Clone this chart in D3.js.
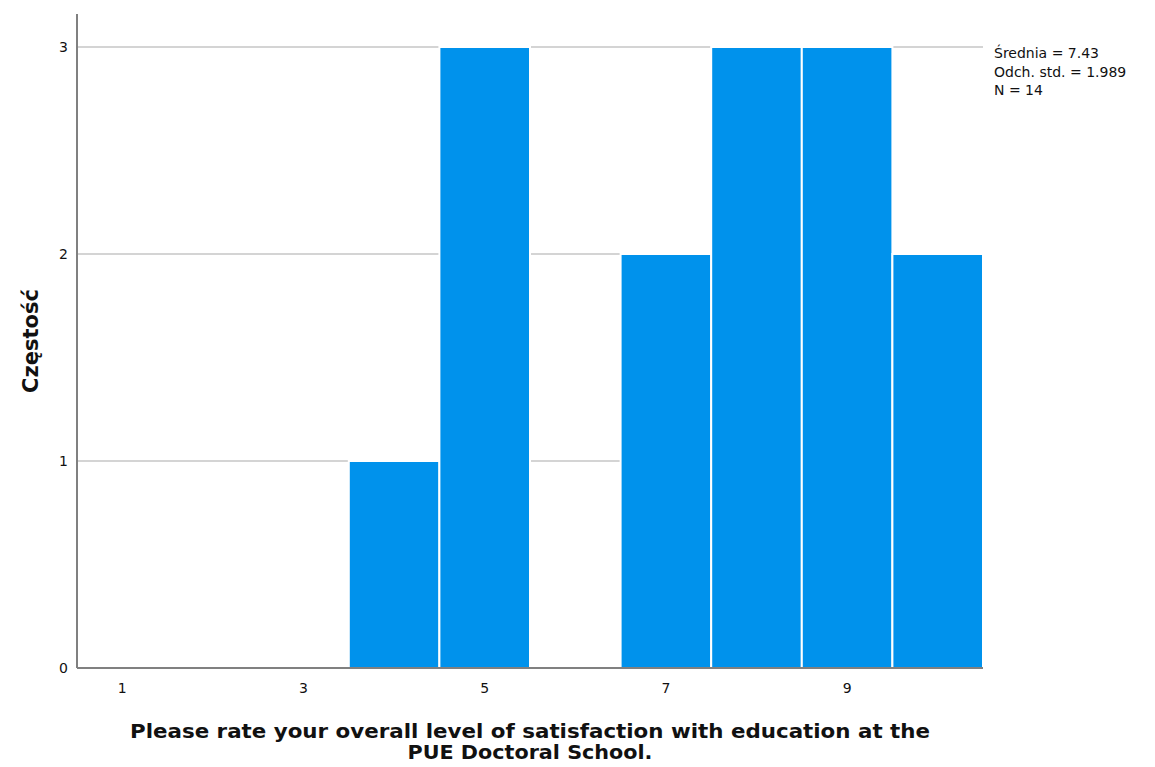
<!DOCTYPE html>
<html>
<head>
<meta charset="utf-8">
<script src="https://cdn.jsdelivr.net/npm/d3@7"></script>
<style>
  body { margin: 0; background: #fff; }
  text { font-family: "DejaVu Sans", sans-serif; fill: #111; }
</style>
</head>
<body>
<svg id="chart" width="1155" height="767"></svg>
<script>
// histogram data
let ratings = [4, 5, 7, 8, 9, 10];
let counts = [1, 3, 2, 3, 3, 2];
let xTicks = [1, 3, 5, 7, 9];
let yTicks = [0, 1, 2, 3];
let statsLines = ['Średnia = 7.43', 'Odch. std. = 1.989', 'N = 14'];
let xTitle = ['Please rate your overall level of satisfaction with education at the', 'PUE Doctoral School.'];
let yTitle = 'Częstość';

let svg = d3.select('#chart');

let plotLeft = 77, plotRight = 983, plotTop = 14, plotBottom = 668;

let x = d3.scaleLinear().domain([0.5, 10.5]).range([plotLeft, plotRight]);
let y = d3.scaleLinear().domain([0, 3]).range([plotBottom, 47]);

// grid lines
svg.append('g')
  .selectAll('line')
  .data(yTicks.filter(d => d > 0))
  .enter()
  .append('line')
  .attr('x1', plotLeft)
  .attr('x2', plotRight)
  .attr('y1', d => y(d))
  .attr('y2', d => y(d))
  .attr('stroke', '#d4d4d4')
  .attr('stroke-width', 2);

// bars
svg.append('g')
  .selectAll('rect')
  .data(ratings)
  .enter()
  .append('rect')
  .attr('x', d => x(d - 0.5))
  .attr('width', d => x(d + 0.5) - x(d - 0.5))
  .attr('y', (d, i) => y(counts[i]))
  .attr('height', (d, i) => plotBottom - y(counts[i]))
  .attr('fill', '#0092ec')
  .attr('stroke', '#fff')
  .attr('stroke-width', 2);

// axes lines
svg.append('line')
  .attr('x1', plotLeft).attr('x2', plotLeft)
  .attr('y1', plotTop).attr('y2', plotBottom)
  .attr('stroke', '#808080').attr('stroke-width', 2);
svg.append('line')
  .attr('x1', plotLeft).attr('x2', plotRight)
  .attr('y1', plotBottom).attr('y2', plotBottom)
  .attr('stroke', '#808080').attr('stroke-width', 2);

// y tick labels
svg.append('g')
  .selectAll('text')
  .data(yTicks)
  .enter()
  .append('text')
  .attr('x', 68)
  .attr('y', d => y(d) + 5)
  .attr('text-anchor', 'end')
  .style('font-size', '14px')
  .text(d => d);

// x tick labels
svg.append('g')
  .selectAll('text')
  .data(xTicks)
  .enter()
  .append('text')
  .attr('x', d => x(d))
  .attr('y', 693)
  .attr('text-anchor', 'middle')
  .style('font-size', '14px')
  .text(d => d);

// stats box
svg.append('g')
  .selectAll('text')
  .data(statsLines)
  .enter()
  .append('text')
  .attr('x', 994)
  .attr('y', (d, i) => 58 + i * 18.5)
  .style('font-size', '14px')
  .text(d => d);

// axis titles
svg.append('g')
  .selectAll('text')
  .data(xTitle)
  .enter()
  .append('text')
  .attr('x', (plotLeft + plotRight) / 2)
  .attr('y', (d, i) => 738 + i * 21)
  .attr('text-anchor', 'middle')
  .style('font-size', '19px')
  .style('font-weight', 'bold')
  .attr('textLength', (d, i) => i === 0 ? 800 : 245)
  .attr('lengthAdjust', 'spacingAndGlyphs')
  .text(d => d);

svg.append('text')
  .attr('transform', 'translate(38, 341) rotate(-90)')
  .attr('text-anchor', 'middle')
  .style('font-size', '21px')
  .style('font-weight', 'bold')
  .text(yTitle);
</script>
</body>
</html>
